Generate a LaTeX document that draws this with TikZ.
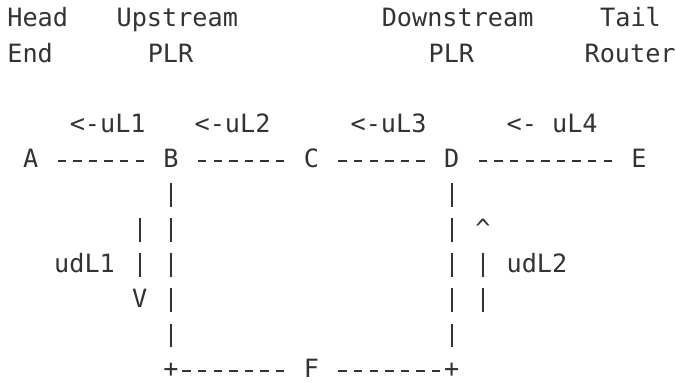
\documentclass[tikz,border=0pt]{standalone}
\usepackage{fontspec}
\usepackage{tikz}
\newfontfamily\asciifont{DejaVu Sans Mono}
\definecolor{ink}{HTML}{333333}

\tikzset{
    txt/.style={anchor=base west, inner sep=0pt, text=ink,
        font=\asciifont\fontsize{25.2}{30}\selectfont},
    lbl/.style={txt, anchor=base, text height=13pt, text depth=0pt},
    hline/.style={draw=ink, line width=2pt, dash pattern=on 8.3pt off 7.3pt,
        shorten <=19.25pt, shorten >=19.25pt},
    vline/.style={draw=ink, line width=2pt, dash pattern=on 24pt off 11.1pt,
        shorten <=15.6pt, shorten >=17.6pt},
}

\begin{document}
\begin{tikzpicture}[x=15.6pt,y=-35.1pt]
            \useasboundingbox (-0.962,0.231) rectangle (42.372,11.142);

            % header rows
            \node[txt] (head) at (-0.5,1) {Head};
            \node[txt] (upstream) at (6.5,1) {Upstream};
            \node[txt] (downstream) at (23.5,1) {Downstream};
            \node[txt] (tail) at (37.5,1) {Tail};
            \node[txt] (endlbl) at (-0.5,2) {End};
            \node[txt] (uplr) at (8.5,2) {PLR};
            \node[txt] (dplr) at (26.5,2) {PLR};
            \node[txt] (router) at (36.5,2) {Router};

            % label directions
            \node[txt] (ul1) at (3.5,4) {<-uL1};
            \node[txt] (ul2) at (11.5,4) {<-uL2};
            \node[txt] (ul3) at (21.5,4) {<-uL3};
            \node[txt] (ul4) at (31.5,4) {<- uL4};
            \node[txt] (udl1) at (2.5,8) {udL1};
            \node[txt] (udl2) at (31.5,8) {udL2};

            % routers
            \node[lbl] (A) at (1,5) {A};
            \node[lbl] (B) at (10,5) {B};
            \node[lbl] (C) at (19,5) {C};
            \node[lbl] (D) at (28,5) {D};
            \node[lbl] (E) at (40,5) {E};
            \node[lbl] (F) at (19,11) {F};
            \node[lbl] (pB) at (10,11) {+};
            \node[lbl] (pD) at (28,11) {+};

            \foreach \u/\v in {A/B,B/C,C/D,D/E}{
                \draw[hline] (\u) -- (\v);
            }
            \draw[hline, shorten <=3.65pt] (pB) -- (F);
            \draw[hline, shorten >=3.65pt] (F) -- (pD);
            \draw[vline] (B) -- (pB);
            \draw[vline] (D) -- (pD);

            % upstream-to-downstream arrows
            \node[lbl] (vdown) at (8,9) {V};
            \coordinate (udtop) at (8,6.444);
            \draw[vline, shorten <=0pt] (udtop) -- (vdown);
            \node[lbl] (uparr) at (30,7) {\textasciicircum};
            \coordinate (udbot) at (30,9.128);
            \draw[vline, shorten >=0pt] (uparr) -- (udbot);
\end{tikzpicture}
\end{document}
